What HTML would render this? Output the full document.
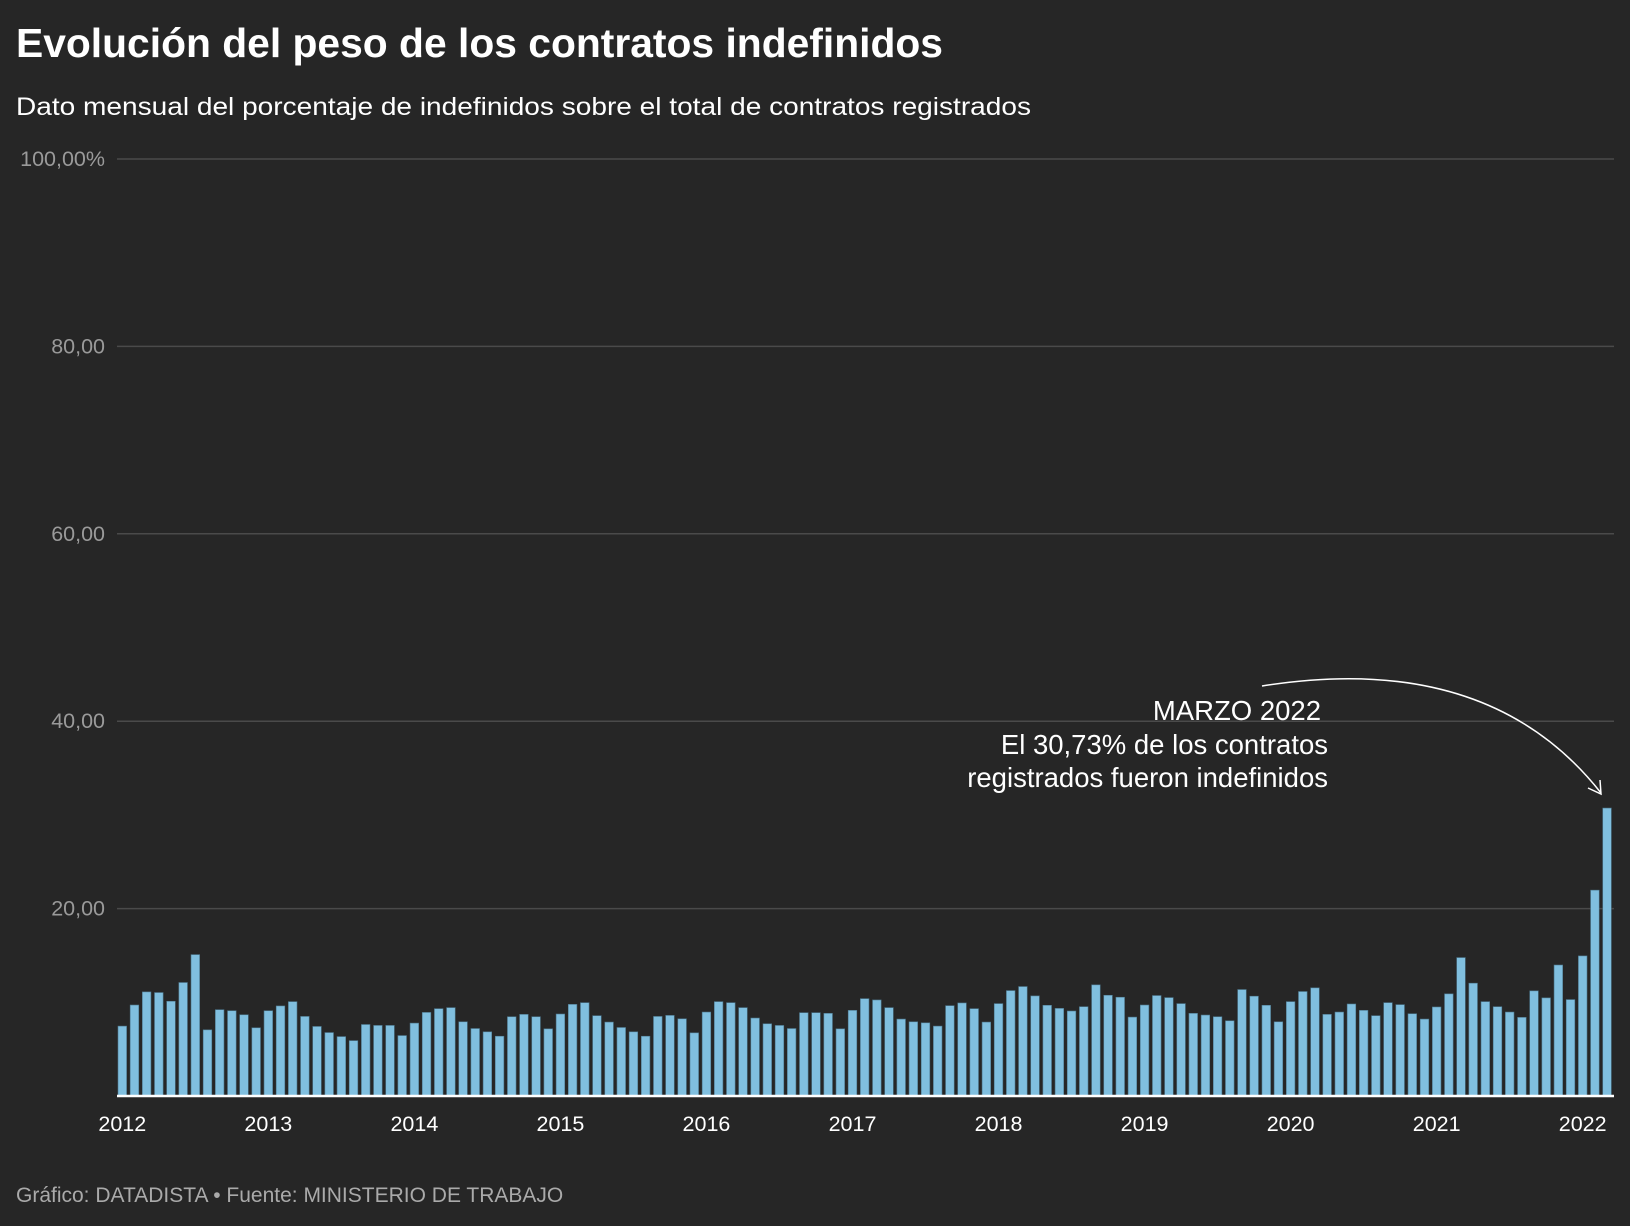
<!DOCTYPE html>
<html><head><meta charset="utf-8"><style>
html,body{margin:0;padding:0;background:#262626;}
svg{display:block;font-family:"Liberation Sans",sans-serif;}
</style></head><body>
<svg id="chart" width="1630" height="1226" viewBox="0 0 1630 1226" xmlns="http://www.w3.org/2000/svg">
<rect width="1630" height="1226" fill="#262626"/>
<text x="16" y="57" font-size="41" font-weight="bold" fill="#fff" textLength="927" lengthAdjust="spacingAndGlyphs">Evolución del peso de los contratos indefinidos</text>
<text x="16" y="115" font-size="25" fill="#fff" textLength="1015" lengthAdjust="spacingAndGlyphs">Dato mensual del porcentaje de indefinidos sobre el total de contratos registrados</text>
<g id="grid"></g>
<g id="bars"></g>
<g id="xaxis"></g>
<g font-size="27.5" fill="#fff" text-anchor="end">
<text x="1321" y="720">MARZO 2022</text>
<text x="1328" y="754">El 30,73% de los contratos</text>
<text x="1328" y="787">registrados fueron indefinidos</text>
</g>
<path d="M1262,686 C1400,664 1520,690 1601,793" fill="none" stroke="#fff" stroke-width="1.5"/>
<path d="M1588,788 L1601,794 L1600,780" fill="none" stroke="#fff" stroke-width="1.5"/>
<text x="16" y="1202" font-size="21" fill="#aaa">Gráfico: DATADISTA • Fuente: MINISTERIO DE TRABAJO</text>
</svg>
<script>
const years = ["2012","2013","2014","2015","2016","2017","2018","2019","2020","2021","2022"];
const yTicks = [20,40,60,80,100];
const yTickLabels = ["20,00","40,00","60,00","80,00","100,00%"];
const values = [
7.46,9.71,11.11,11.04,10.11,12.11,15.09,7.06,9.21,9.10,8.67,7.28,
9.10,9.61,10.07,8.49,7.42,6.77,6.34,5.91,7.63,7.53,7.53,6.45,
7.78,8.92,9.32,9.43,7.92,7.20,6.85,6.38,8.46,8.71,8.46,7.17,
8.75,9.78,9.96,8.57,7.89,7.31,6.85,6.38,8.49,8.60,8.24,6.74,
8.96,10.07,9.96,9.43,8.32,7.71,7.53,7.20,8.89,8.89,8.82,7.17,
9.14,10.39,10.25,9.43,8.21,7.92,7.81,7.46,9.64,9.93,9.32,7.89,
9.86,11.25,11.68,10.68,9.68,9.35,9.07,9.53,11.86,10.75,10.54,8.42,
9.71,10.72,10.50,9.86,8.82,8.64,8.46,8.03,11.36,10.65,9.68,7.92,
10.07,11.15,11.54,8.71,8.96,9.82,9.14,8.57,9.96,9.75,8.78,8.21,
9.50,10.90,14.77,12.04,10.07,9.53,8.96,8.39,11.22,10.47,13.98,10.29,
14.95,21.97,30.73];

const NS="http://www.w3.org/2000/svg";
const left=117,right=1614,y0=1096,y100=159;
const y=v=>y0-(y0-y100)*v/100;
const step=12.17,firstX=122.3,bw=8.6;
const x=i=>firstX+i*step;
function mk(tag,attrs,parent){const e=document.createElementNS(NS,tag);for(const k in attrs)e.setAttribute(k,attrs[k]);parent.appendChild(e);return e;}
const grid=document.getElementById('grid');
yTicks.forEach((t,i)=>{
  const l=mk('line',{x1:left,x2:right,y1:y(t),y2:y(t),stroke:'#4a4a4a','stroke-width':1.5},grid);
  
  
  const tx=mk('text',{x:105,y:y(t)+7,'text-anchor':'end','font-size':21.5,fill:'#9a9a9a'},grid);
  tx.textContent=yTickLabels[i];
  
  
});
const bars=document.getElementById('bars');
values.forEach((v,i)=>{
  const r=mk('rect',{x:x(i)-bw/2,y:y(v),width:bw,height:y0-y(v),fill:'#80bfdf',stroke:'#4f7a90','stroke-width':0.6},bars);
  
  
});
const xa=document.getElementById('xaxis');
const base=mk('line',{x1:left,x2:right,y1:y0,y2:y0,stroke:'#fff','stroke-width':2.5},xa);


years.forEach((yr,i)=>{
  const t=mk('text',{x:x(i*12),y:1131,'text-anchor':'middle','font-size':21.5,fill:'#fff'},xa);
  t.textContent=yr;
  
  
});
</script>
</body></html>
